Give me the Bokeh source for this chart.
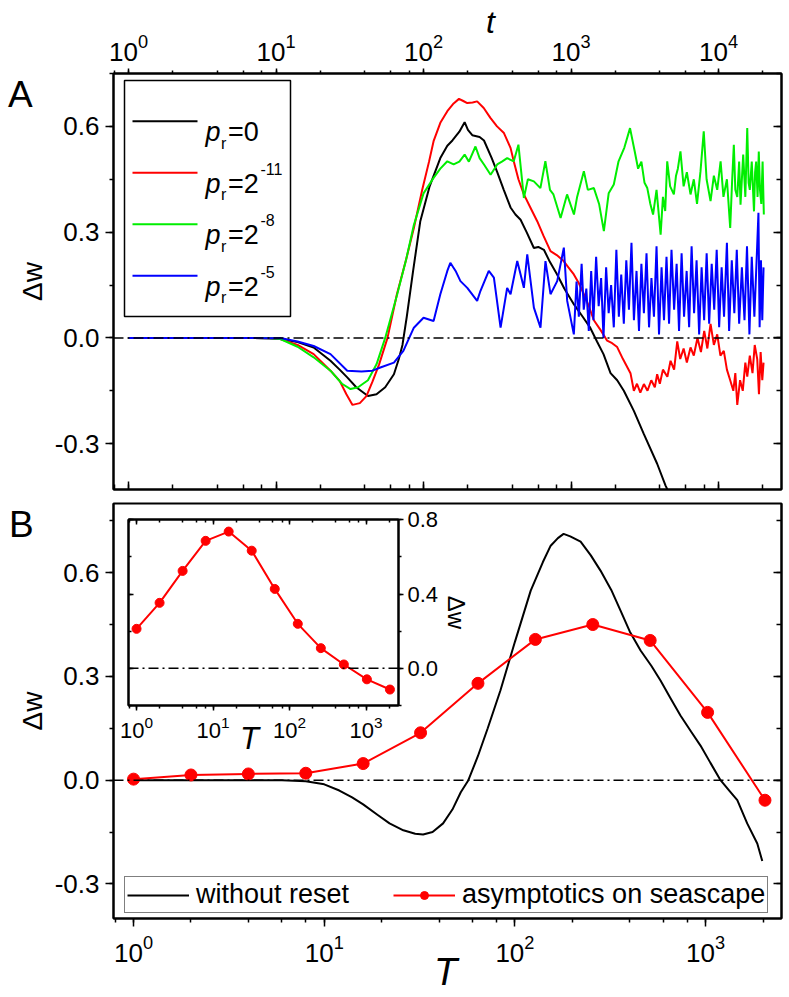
from bokeh.plotting import figure
from bokeh.layouts import column
from bokeh.models import (LogAxis, LinearAxis, LogTicker, SingleIntervalTicker,
                          PrintfTickFormatter, Span, Label, BoxAnnotation, Legend,
                          LegendItem, Range1d, Div)
from bokeh.embed import file_html
from bokeh.resources import INLINE

FONT = "Liberation Sans"

# ---------------- Panel A data (t, delta w) ----------------
t_pr0 = [1, 3, 6, 9, 10.7, 14, 18, 23.4, 27, 30.4, 35, 42, 48, 55, 63, 68, 72, 77, 85, 95,
         110, 130, 145, 157, 175, 190, 200, 214, 240, 257, 290, 316, 350, 389, 420, 455, 500,
         560, 600, 655, 720, 805, 900, 1047, 1200, 1349, 1500, 1660, 1853, 2056, 2280, 2667,
         3119, 3837, 4375, 5000]
w_pr0 = [0, 0, 0, -0.001, -0.003, -0.012, -0.027, -0.065, -0.09, -0.112, -0.14, -0.165, -0.16,
         -0.14, -0.103, -0.06, -0.02, 0.06, 0.19, 0.33, 0.43, 0.51, 0.545, 0.56, 0.585, 0.612,
         0.59, 0.575, 0.57, 0.56, 0.51, 0.47, 0.42, 0.37, 0.35, 0.335, 0.3, 0.255, 0.258, 0.25,
         0.215, 0.18, 0.14, 0.095, 0.06, 0.029, -0.01, -0.046, -0.1, -0.12, -0.15, -0.207,
         -0.273, -0.357, -0.419, -0.47]

t_pr11 = [1, 3, 6, 9, 10.7, 14, 18, 23.4, 27, 30, 33, 37, 41, 45, 50, 57, 66, 76, 86, 98,
          109, 117, 130, 145, 160, 174, 186, 198, 215, 231, 256, 284, 315, 351, 389, 409, 440,
          479, 530, 590, 650, 726, 800, 891, 960, 1045, 1130, 1222, 1320, 1429, 1600, 1758,
          1900, 2056, 2250, 2530,
          2667, 2800, 2950, 3119, 3300, 3500, 3700, 3837, 4000, 4200, 4500, 4730, 5000, 5250,
          5500, 5800, 6100, 6460, 6800, 7200, 7600, 8000, 8400, 8830, 9300, 9800, 10300, 10860,
          11400, 12000, 12600, 13000, 13400, 14000, 14600, 15200, 15660, 16300, 17000, 17600,
          18300, 18800, 19300, 19800, 20200]
w_pr11 = [0, 0, 0, -0.001, -0.003, -0.02, -0.046, -0.093, -0.122, -0.16, -0.19, -0.185, -0.165,
          -0.125, -0.075, 0.0, 0.124, 0.22, 0.312, 0.42, 0.50, 0.558, 0.61, 0.643, 0.665, 0.678,
          0.672, 0.666, 0.668, 0.671, 0.652, 0.624, 0.6, 0.581, 0.539, 0.501, 0.45, 0.407, 0.37,
          0.331, 0.29, 0.246, 0.235, 0.218, 0.2, 0.18, 0.155, 0.124, 0.09, 0.05, 0.02, -0.008,
          -0.015, -0.026, -0.06, -0.1,
          -0.15, -0.13, -0.155, -0.131, -0.15, -0.12, -0.14, -0.103, -0.13, -0.09, -0.11,
          -0.065, -0.09, -0.01, -0.06, -0.03, -0.07, -0.027, -0.05, 0.0, -0.04, 0.02, -0.03,
          0.04, -0.02, 0.01, -0.05, -0.037, -0.09, -0.12, -0.15, -0.1, -0.19, -0.12, -0.15,
          -0.07, -0.11, -0.05, -0.1, -0.02, -0.06, -0.16, -0.04, -0.12, -0.07]

t_pr8 = [1, 3, 6, 9, 10.7, 14, 18, 23.4, 28, 32, 36, 42, 48, 55, 66, 76, 86, 100, 117, 130,
         145, 160, 175, 190, 203, 225, 240, 257, 285, 316, 340, 369, 409, 440, 479, 510, 560,
         620, 670, 720, 760, 850, 940, 1047, 1100, 1222, 1300, 1429, 1550, 1670, 1800, 1950,
         2100, 2300, 2512, 2700, 2850, 3000, 3150, 3289, 3450, 3600, 3800, 4050, 4200, 4350,
         4490, 4700, 4980, 5150, 5300, 5520, 5800, 6100, 6460, 6800, 7150, 7550, 7940, 8300,
         8830, 9300, 9800, 10330, 10800, 11400, 12000, 12350, 12700, 13000, 13400, 13800,
         14100, 14400, 14700, 15200, 15660, 16000, 16300, 16800, 17400, 17700, 18000, 18400,
         18750, 19100, 19500, 19900, 20290]
w_pr8 = [0, 0, 0, -0.001, -0.003, -0.025, -0.055, -0.093, -0.13, -0.145, -0.14, -0.12, -0.075,
         0.0, 0.12, 0.22, 0.32, 0.41, 0.454, 0.48, 0.501, 0.492, 0.50, 0.52, 0.50, 0.543, 0.51,
         0.492, 0.463, 0.492, 0.50, 0.51, 0.501, 0.548, 0.397, 0.45, 0.444, 0.425, 0.501, 0.42,
         0.407, 0.34, 0.407, 0.35, 0.40, 0.473, 0.42, 0.425, 0.38, 0.303, 0.41, 0.435, 0.501,
         0.54, 0.595, 0.53, 0.48, 0.50, 0.44, 0.425, 0.38, 0.35, 0.42, 0.293, 0.40, 0.36, 0.501,
         0.43, 0.407, 0.46, 0.48, 0.529, 0.43, 0.47, 0.407, 0.45, 0.38, 0.473, 0.586, 0.45,
         0.388, 0.46, 0.42, 0.501, 0.40, 0.45, 0.312, 0.44, 0.548, 0.42, 0.40, 0.50, 0.378,
         0.45, 0.52, 0.40, 0.595, 0.44, 0.42, 0.50, 0.359, 0.47, 0.50, 0.40, 0.529, 0.42, 0.38,
         0.50, 0.35]

t_pr5 = [1, 3, 6, 9, 10.7, 14, 18, 23.4, 30.4, 38, 45, 51, 63, 73, 86, 100, 117, 130, 145, 152,
         165, 178, 198, 231, 243, 277, 300, 333, 369, 389, 432, 479, 505, 560, 621, 671, 726,
         806, 894, 942, 1045,
         1090, 1130, 1180, 1220, 1270, 1320, 1370, 1420, 1480, 1540, 1600, 1660, 1730, 1800,
         1870, 1950, 2030, 2110, 2190, 2280, 2370, 2470, 2570, 2670, 2780, 2890, 3000, 3120,
         3250, 3380, 3510, 3650, 3800, 3950, 4110, 4270, 4440, 4620, 4800, 5000, 5200, 5400,
         5620, 5840, 6080, 6320, 6570, 6830, 7100, 7390, 7680, 7990, 8310, 8640, 8990, 9350,
         9720, 10100, 10500, 10900, 11400, 11800, 12300, 12800, 13300, 13800, 14400, 15000,
         15600, 16200, 16800, 17500, 18200, 18650, 19000, 19400, 19800, 20200]
w_pr5 = [0, 0, 0, -0.001, 0.0, -0.01, -0.023, -0.046, -0.093, -0.095, -0.093, -0.084, -0.07,
         -0.037, 0.029, 0.057, 0.048, 0.124, 0.19, 0.213, 0.19, 0.161, 0.142, 0.105, 0.133,
         0.19, 0.171, 0.029, 0.142, 0.124, 0.218, 0.142, 0.237, 0.086, 0.029, 0.218, 0.124,
         0.161, 0.256, 0.105, 0.01,
         0.16, 0.06, 0.21, 0.08, 0.14, 0.02, 0.19, 0.05, 0.23, 0.09, 0.17, 0.0, 0.2, 0.07, 0.15,
         0.03, 0.25, 0.06, 0.18, 0.04, 0.22, 0.08, 0.27, 0.05, 0.19, 0.02, 0.21, 0.07, 0.24,
         0.03, 0.17, 0.06, 0.26, 0.01, 0.2, 0.05, 0.23, 0.04, 0.25, 0.08, 0.21, 0.02, 0.24,
         0.06, 0.19, 0.03, 0.26, 0.07, 0.22, 0.01, 0.2, 0.05, 0.24, 0.04, 0.21, 0.08, 0.25,
         0.03, 0.2, 0.06, 0.27, 0.02, 0.22, 0.07, 0.25, 0.04, 0.2, 0.05, 0.26, 0.01, 0.23, 0.06,
         0.24, 0.355, 0.03, 0.22, 0.05, 0.2]

# ---------------- Panel B data (T, delta w) ----------------
T_noreset = [1, 2, 4, 6, 8, 10, 12, 14, 16, 19, 22, 26, 30, 33, 37, 42, 47, 52, 57, 64, 72, 84,
             100, 121, 140, 154, 168, 180, 195, 221, 250, 281, 320, 358, 400, 456, 520, 580,
             650, 738, 840, 940, 1060, 1197, 1330, 1466, 1652, 1866, 1982]
w_noreset = [0, 0, 0, 0, -0.003, -0.012, -0.03, -0.05, -0.07, -0.1, -0.125, -0.145, -0.155,
             -0.157, -0.15, -0.125, -0.085, -0.035, 0.0, 0.07, 0.15, 0.26, 0.4, 0.548, 0.63,
             0.678, 0.70, 0.712, 0.705, 0.69, 0.65, 0.606, 0.55, 0.49, 0.43, 0.375, 0.33, 0.288,
             0.24, 0.187, 0.14, 0.1, 0.05, 0.0, -0.03, -0.058, -0.125, -0.183, -0.234]

T_asym = [1, 2, 4, 8, 16, 32, 64, 128, 256, 512, 1024, 2048]
w_asym = [0.003, 0.015, 0.018, 0.02, 0.048, 0.137, 0.28, 0.407, 0.45, 0.404, 0.196, -0.058]
w_inset = [0.213, 0.353, 0.525, 0.687, 0.737, 0.634, 0.428, 0.24, 0.109, 0.021, -0.059, -0.114]

legend_A_base = ["=0", "=2", "=2", "=2"]
legend_A_sup = ["", "-11", "-8", "-5"]
colors_A = ["black", "#ff0000", "#00ee00", "#0000ff"]


def style_axis(ax, labels=True, tin=0, tout=8, mtin=0, mtout=4, size="26px", standoff=6):
    ax.axis_line_width = 2
    ax.axis_line_color = "black"
    ax.major_tick_line_width = 1.5
    ax.minor_tick_line_width = 1.5
    ax.major_tick_line_color = "black"
    ax.minor_tick_line_color = "black"
    ax.major_tick_in = tin
    ax.major_tick_out = tout
    ax.minor_tick_in = mtin
    ax.minor_tick_out = mtout
    ax.major_label_text_font = FONT
    ax.major_label_text_color = "black"
    ax.axis_label_text_color = "black"
    if labels:
        ax.major_label_text_font_size = size
        ax.major_label_standoff = standoff
    else:
        ax.major_label_text_font_size = "1px"
        ax.major_label_text_alpha = 0
        ax.major_label_standoff = 0


def base_fig(**kw):
    p = figure(output_backend="svg", toolbar_location=None, **kw)
    p.grid.visible = False
    p.outline_line_color = "black"
    p.outline_line_width = 2
    p.outline_line_alpha = 1
    try:
        p.frame_align = False
    except Exception:
        pass
    return p


def zero_line(p):
    p.add_layout(Span(location=0, dimension="width", line_color="black",
                      line_width=1.5, line_dash="10 4 2 4"))


def slabel(p, x, y, text, size, style="normal", align="left"):
    p.add_layout(Label(x=x, y=y, x_units="screen", y_units="screen", text=text,
                       text_font=FONT, text_font_style=style, text_font_size=size,
                       text_baseline="alphabetic", text_align=align, text_color="black"))


def text_div(text, size, line_h, width, margin, italic=False):
    style = {"font-family": FONT, "font-size": f"{size}px", "line-height": f"{line_h}px",
             "font-style": "italic" if italic else "normal", "color": "black"}
    css = "; ".join(f"{k}: {v}" for k, v in style.items())
    return Div(text=f'<span style="{css}">{text}</span>', width=width, height=line_h,
               margin=margin, styles=style)


# ================= Panel A =================
pA = base_fig(width=789, height=496, x_axis_type="log", x_axis_location="above",
              x_range=Range1d(0.791, 26730), y_range=Range1d(-0.43, 0.75),
              min_border_left=113, min_border_right=8, min_border_top=73, min_border_bottom=7)
axA_top = pA.xaxis[0]
axA_top.ticker = LogTicker()
style_axis(axA_top, tout=5, mtout=3, standoff=8)
axA_left = pA.yaxis[0]
axA_left.ticker = SingleIntervalTicker(interval=0.3, num_minor_ticks=2)
axA_left.formatter = PrintfTickFormatter(format="%.1f")
style_axis(axA_left)
axA_left.axis_label = "Δw"
axA_left.axis_label_text_font = FONT
axA_left.axis_label_text_font_size = "28px"
axA_left.axis_label_text_font_style = "normal"
axA_left.axis_label_standoff = 4
axA_bot = LogAxis(ticker=LogTicker())
style_axis(axA_bot, labels=False, tin=8, tout=0, mtin=5, mtout=0)
pA.add_layout(axA_bot, "below")
axA_right = LinearAxis(ticker=SingleIntervalTicker(interval=0.3, num_minor_ticks=2))
style_axis(axA_right, labels=False, tin=8, tout=0, mtin=5, mtout=0)
pA.add_layout(axA_right, "right")

zero_line(pA)
for tt, ww, c in zip([t_pr0, t_pr11, t_pr8, t_pr5], [w_pr0, w_pr11, w_pr8, w_pr5], colors_A):
    pA.line(tt, ww, line_color=c, line_width=2)

# manual legend for panel A (screen coordinates relative to the frame)
pA.add_layout(BoxAnnotation(left=11, right=177, top=409, bottom=173,
                            left_units="screen", right_units="screen",
                            top_units="screen", bottom_units="screen",
                            fill_color="white", fill_alpha=1, line_color="black",
                            line_width=1.5, line_alpha=1))
row_base = [357.5, 306, 254.5, 203]
for i in range(4):
    yb = row_base[i]
    pA.add_layout(BoxAnnotation(left=19, right=84, top=yb + 11.8, bottom=yb + 9.8,
                                left_units="screen", right_units="screen",
                                top_units="screen", bottom_units="screen",
                                fill_color=colors_A[i], fill_alpha=1, line_alpha=0))
    slabel(pA, 92, yb, "p", "27px", style="italic")
    slabel(pA, 107.5, yb - 11, "r", "16px")
    slabel(pA, 114.5, yb, legend_A_base[i], "27px")
    if legend_A_sup[i]:
        slabel(pA, 147, yb + 15, legend_A_sup[i], "16px")

# ================= Panel B =================
pB = base_fig(width=789, height=500, x_axis_type="log",
              x_range=Range1d(0.785, 2500), y_range=Range1d(-0.4, 0.8),
              min_border_left=113, min_border_right=8, min_border_top=7, min_border_bottom=78)
axB_bot = pB.xaxis[0]
axB_bot.ticker = LogTicker()
style_axis(axB_bot, tout=8, mtout=4, standoff=8)
axB_left = pB.yaxis[0]
axB_left.ticker = SingleIntervalTicker(interval=0.3, num_minor_ticks=2)
axB_left.formatter = PrintfTickFormatter(format="%.1f")
style_axis(axB_left)
axB_left.axis_label = "Δw"
axB_left.axis_label_text_font = FONT
axB_left.axis_label_text_font_size = "28px"
axB_left.axis_label_text_font_style = "normal"
axB_left.axis_label_standoff = 4
axB_right = LinearAxis(ticker=SingleIntervalTicker(interval=0.3, num_minor_ticks=2))
style_axis(axB_right, labels=False, tin=8, tout=0, mtin=5, mtout=0)
pB.add_layout(axB_right, "right")

zero_line(pB)
r_nr = pB.line(T_noreset, w_noreset, line_color="black", line_width=2)
r_al = pB.line(T_asym, w_asym, line_color="#ff0000", line_width=2)
r_ad = pB.scatter(T_asym, w_asym, size=12, fill_color="#ff0000", line_color="#ff0000")

legB = Legend(items=[LegendItem(label="without reset", renderers=[r_nr]),
                     LegendItem(label="asymptotics on seascape", renderers=[r_al, r_ad])],
              location=(11, 5), orientation="horizontal",
              label_text_font=FONT, label_text_font_size="27px", label_text_color="black",
              glyph_width=62, glyph_height=20, label_standoff=7, spacing=44,
              padding=2, margin=0, border_line_color="black", border_line_width=1.5,
              background_fill_color="white", background_fill_alpha=1)
pB.add_layout(legB)

# ================= Inset =================
pI = base_fig(width=365, height=252, x_axis_type="log", y_axis_location="right",
              x_range=Range1d(0.785, 2650), y_range=Range1d(-0.2, 0.802),
              min_border_left=10, min_border_right=85, min_border_top=16, min_border_bottom=50)
pI.border_fill_alpha = 0
pI.background_fill_color = "white"
pI.margin = (503 - 996, 0, 0, 118)
axI_bot = pI.xaxis[0]
axI_bot.ticker = LogTicker()
style_axis(axI_bot, tout=5, mtout=3, size="22px", standoff=5)
axI_right = pI.yaxis[0]
axI_right.ticker = SingleIntervalTicker(interval=0.4, num_minor_ticks=2)
axI_right.formatter = PrintfTickFormatter(format="%.1f")
style_axis(axI_right, tout=5, mtout=3, size="22px", standoff=4)
axI_right.axis_label = "Δw"
axI_right.axis_label_text_font = FONT
axI_right.axis_label_text_font_size = "24px"
axI_right.axis_label_text_font_style = "normal"
axI_right.axis_label_standoff = 2
axI_top = LogAxis(ticker=LogTicker())
style_axis(axI_top, labels=False, tin=5, tout=0, mtin=3, mtout=0)
pI.add_layout(axI_top, "above")
axI_left = LinearAxis(ticker=SingleIntervalTicker(interval=0.4, num_minor_ticks=2))
style_axis(axI_left, labels=False, tin=5, tout=0, mtin=3, mtout=0)
pI.add_layout(axI_left, "left")

zero_line(pI)
pI.line(T_asym, w_inset, line_color="#ff0000", line_width=2)
pI.scatter(T_asym, w_inset, size=9, fill_color="#ff0000", line_color="#ff0000")

# ================= free texts (panel letters, axis titles) =================
# each margin is (top, right, bottom, left) relative to the end of the previous element
div_A = text_div("A", 37, 37, 40, (76 - 755, 0, 0, 8))
div_B = text_div("B", 37, 37, 40, (506 - 113, 0, 0, 9))
div_t = text_div("t", 32, 32, 30, (6 - 543, 0, 0, 486), italic=True)
div_Ti = text_div("T", 31, 30, 40, (724 - 38, 0, 0, 240), italic=True)
div_T = text_div("T", 38, 38, 50, (953 - 754, 0, 0, 434), italic=True)

layout = column(pA, pB, pI, div_A, div_B, div_t, div_Ti, div_T, spacing=0)

with open("out.html", "w") as f:
    f.write(file_html(layout, INLINE))
